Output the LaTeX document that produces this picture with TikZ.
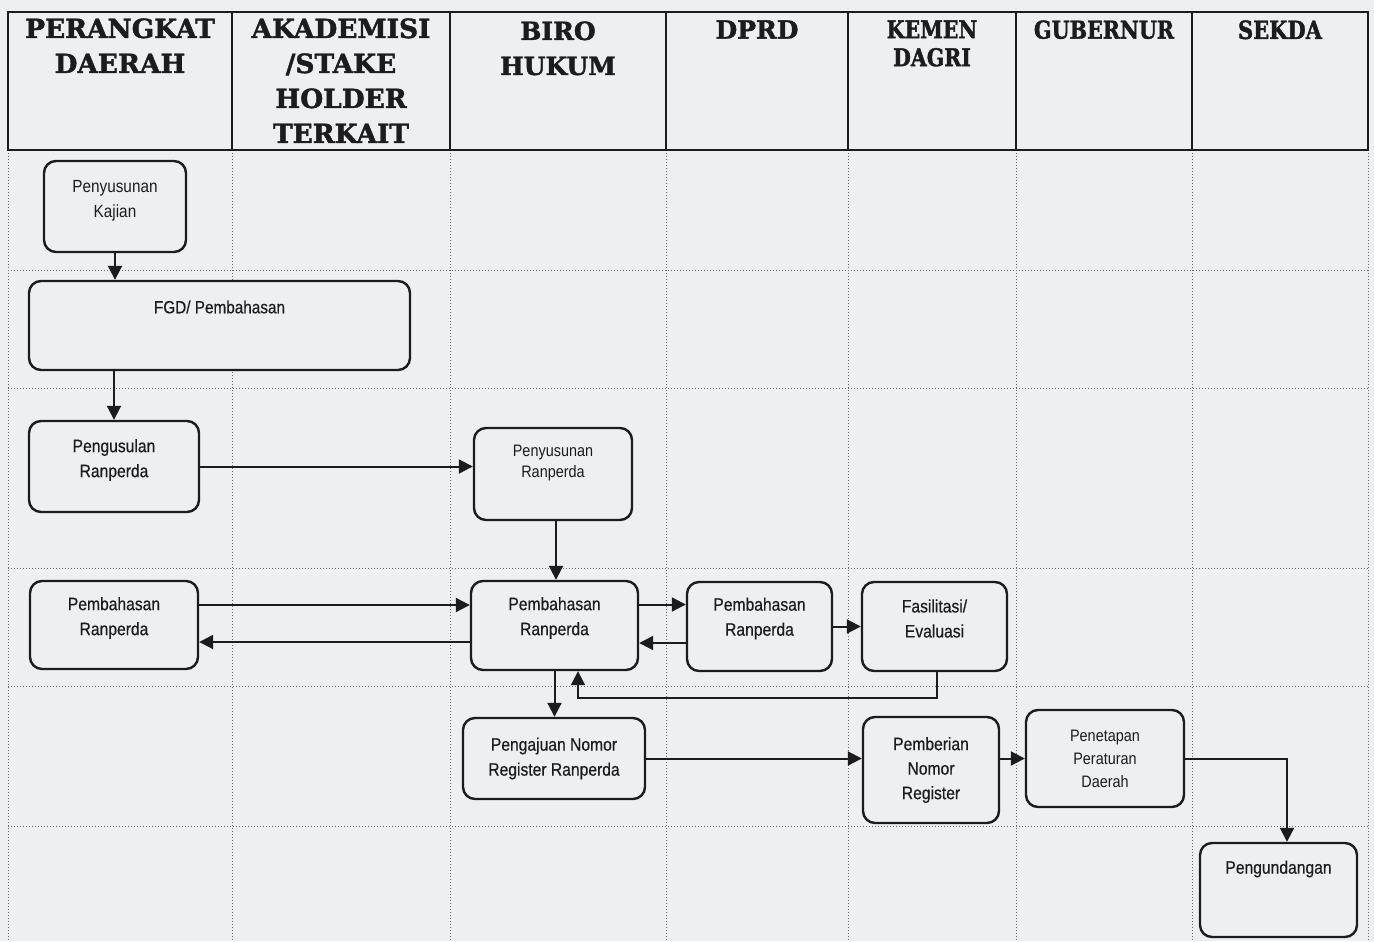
\documentclass[tikz,border=0pt]{standalone}
\usepackage{fontspec}
\setmainfont{Liberation Sans}
\newfontfamily\hdrfont[BoldFeatures={FakeBold=1.6}]{DejaVu Serif}
\newfontfamily\hdrnarrow[FakeStretch=0.84,BoldFeatures={FakeBold=1.6}]{DejaVu Serif}
\newfontfamily\boxfont[FakeStretch=0.87,FakeBold=0.5]{Liberation Sans}
\newfontfamily\boxlight[FakeStretch=0.87]{Liberation Sans}
\usetikzlibrary{arrows.meta}
\definecolor{paper}{RGB}{238,239,242}
\definecolor{ink}{RGB}{28,28,30}
\begin{document}
\begin{tikzpicture}[x=0.5pt,y=-0.5pt,
  hdr/.style={font=\hdrfont\bfseries\fontsize{12.5}{17.5}\selectfont, align=center, anchor=north, inner sep=0pt, text=ink},
  box/.style={draw=ink, line width=1.2pt, rounded corners=6pt, fill=paper, inner sep=0pt},
  lbl/.style={font=\boxfont\fontsize{9}{12.5}\selectfont, align=center, text=ink, inner sep=0pt},
  slbl/.style={font=\boxlight\fontsize{8.3}{10.5}\selectfont, align=center, text=ink, inner sep=0pt},
  arr/.style={draw=ink, line width=1pt, -{Triangle[length=7pt,width=7pt]}},
  solidln/.style={draw=ink, line width=0.8pt},
  gridln/.style={draw=black!60, line width=0.5pt, densely dotted}]
\useasboundingbox (0,0) rectangle (1374,941);
\fill[paper] (0,0) rectangle (1374,941);
% body grid
\foreach \x in {8,232,450,666,848,1016,1192,1368} \draw[gridln] (\x,150) -- (\x,941);
\foreach \y in {270,388,568,686,826} \draw[gridln] (8,\y) -- (1368,\y);
% header grid
\draw[solidln] (8,12) rectangle (1368,150);
\foreach \x in {232,450,666,848,1016,1192} \draw[solidln] (\x,12) -- (\x,150);
% header texts
\node[hdr, font=\hdrfont\bfseries\fontsize{13.2}{17.5}\selectfont] (h1) at (120,18) {PERANGKAT\\DAERAH};
\node[hdr, font=\hdrfont\bfseries\fontsize{13.2}{17.5}\selectfont] (h2) at (341,18) {AKADEMISI\\/STAKE\\HOLDER\\TERKAIT};
\node[hdr] (h3) at (558,21) {BIRO\\HUKUM};
\node[hdr] (h4) at (757,20) {DPRD};
\node[hdr, font=\hdrnarrow\bfseries\fontsize{12.2}{14}\selectfont] (h5) at (932,20) {KEMEN\\DAGRI};
\node[hdr, font=\hdrnarrow\bfseries\fontsize{12.3}{17.5}\selectfont] (h6) at (1104,20) {GUBERNUR};
\node[hdr, font=\hdrnarrow\bfseries\fontsize{12.5}{17.5}\selectfont] (h7) at (1280,20) {SEKDA};
% boxes
\node[box, minimum width=71pt, minimum height=45.5pt, label={[slbl,font=\boxlight\fontsize{8.8}{12.5}\selectfont,yshift=2.75pt]center:{Penyusunan\\Kajian}}] (kajian) at (115,206.5) {};
\node[box, minimum width=190.5pt, minimum height=44.5pt, label={[lbl,font=\boxfont\fontsize{8.8}{12.5}\selectfont,yshift=9.25pt]center:{FGD/ Pembahasan}}] (fgd) at (219.5,325.5) {};
\node[box, minimum width=85pt, minimum height=45.5pt, label={[lbl,yshift=3.25pt]center:{Pengusulan\\Ranperda}}] (pengusulan) at (114,466.5) {};
\node[box, minimum width=79pt, minimum height=46pt, label={[slbl,yshift=5.5pt]center:{Penyusunan\\Ranperda}}] (penyusunan) at (553,474) {};
\node[box, minimum width=84pt, minimum height=44pt, label={[lbl,yshift=3.5pt]center:{Pembahasan\\Ranperda}}] (pdpemb) at (114,625) {};
\node[box, minimum width=83.5pt, minimum height=44.5pt, label={[lbl,yshift=3.75pt]center:{Pembahasan\\Ranperda}}] (biropemb) at (554.5,625.5) {};
\node[box, minimum width=72.5pt, minimum height=44.5pt, label={[lbl,yshift=4pt]center:{Pembahasan\\Ranperda}}] (dprd) at (759.5,626.5) {};
\node[box, minimum width=72.5pt, minimum height=44.5pt, label={[lbl,yshift=4pt]center:{Fasilitasi/\\Evaluasi}}] (fasil) at (934.5,626.5) {};
\node[box, minimum width=91pt, minimum height=40.5pt, label={[lbl]center:{Pengajuan Nomor\\Register Ranperda}}] (pengajuan) at (554,758.5) {};
\node[box, minimum width=68pt, minimum height=53pt, label={[lbl,font=\boxfont\fontsize{9}{12.25}\selectfont]center:{Pemberian\\Nomor\\Register}}] (pemberian) at (931,770) {};
\node[box, minimum width=79pt, minimum height=48.5pt, label={[slbl,font=\boxlight\fontsize{8.3}{11.5}\selectfont]center:{Penetapan\\Peraturan\\Daerah}}] (penetapan) at (1105,758.5) {};
\node[box, minimum width=78.5pt, minimum height=47pt, label={[lbl,yshift=10.5pt]center:{Pengundangan}}] (pengundangan) at (1278.5,890) {};
% connectors
\draw[arr] (kajian.south) -- (kajian.south |- fgd.north);
\draw[arr] (pengusulan.north |- fgd.south) -- (pengusulan.north);
\draw[arr] (pengusulan.east) -- (pengusulan.east -| penyusunan.west);
\draw[arr] ([xshift=1.5pt]penyusunan.south) -- ([xshift=1.5pt]penyusunan.south |- biropemb.north);
\draw[arr] ([yshift=10pt]pdpemb.east) -- ([yshift=10pt]pdpemb.east -| biropemb.west);
\draw[arr] ([yshift=-8.25pt]biropemb.west) -- ([yshift=-8.25pt]biropemb.west -| pdpemb.east);
\draw[arr] ([yshift=10.5pt]biropemb.east) -- ([yshift=10.5pt]biropemb.east -| dprd.west);
\draw[arr] ([yshift=-8.25pt]dprd.west) -- ([yshift=-8.25pt]dprd.west -| biropemb.east);
\draw[arr] (dprd.east) -- (dprd.east -| fasil.west);
\draw[arr] ([xshift=1.25pt]fasil.south) -- ++(0,26) -| ([xshift=11.75pt]biropemb.south);
\draw[arr] (biropemb.south) -- (biropemb.south |- pengajuan.north);
\draw[arr] (pengajuan.east) -- (pengajuan.east -| pemberian.west);
\draw[arr] (penetapan.west -| pemberian.east) -- (penetapan.west);
\draw[arr] (penetapan.east) -| ([xshift=4.25pt]pengundangan.north);
\end{tikzpicture}
\end{document}
